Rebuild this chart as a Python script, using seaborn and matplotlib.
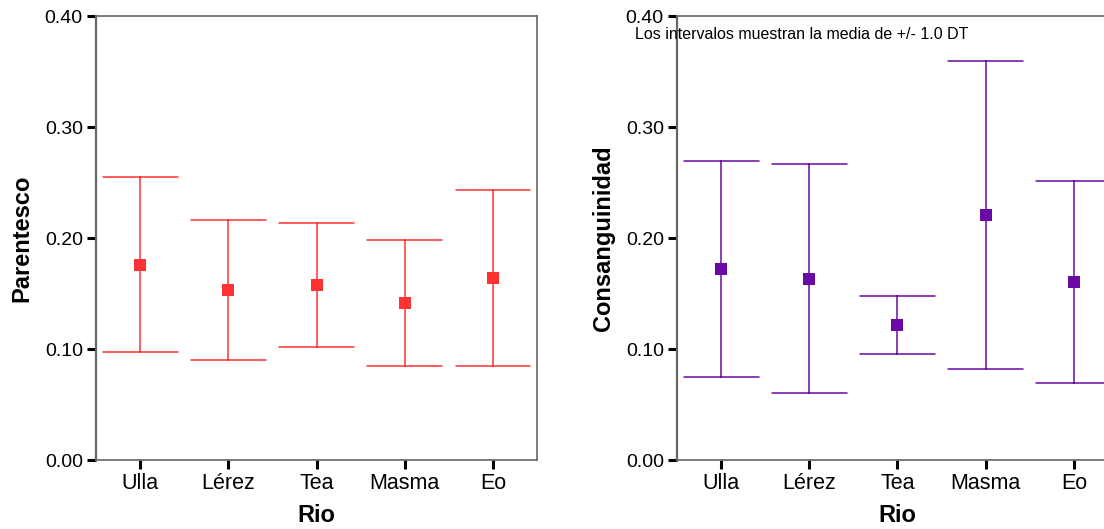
import pandas as pd
import numpy as np
import matplotlib
matplotlib.use('Agg')
import matplotlib.pyplot as plt
import seaborn as sns

# Data: mean +/- 1 SD per river
rios = ['Ulla', 'Lérez', 'Tea', 'Masma', 'Eo']
parentesco_media = [0.176, 0.153, 0.1575, 0.1415, 0.164]
parentesco_dt = [0.079, 0.063, 0.056, 0.0565, 0.079]
consang_media = [0.172, 0.1635, 0.1216, 0.2207, 0.1604]
consang_dt = [0.097, 0.103, 0.0263, 0.139, 0.091]
yticks = [0.0, 0.1, 0.2, 0.3, 0.4]

sns.set_theme(style='white')
plt.rcParams['font.family'] = ['Liberation Sans', 'DejaVu Sans']

RED = '#ff3333'
PURPLE = '#6a0aa6'
NARROW = ['Liberation Sans Narrow', 'Liberation Sans', 'DejaVu Sans']


def interval_frame(media, dt):
    # two rows per river: mean - sd and mean + sd
    rows = []
    for r, m, s in zip(rios, media, dt):
        rows.append({'Rio': r, 'valor': m - s})
        rows.append({'Rio': r, 'valor': m + s})
    return pd.DataFrame(rows)


def draw_panel(ax, media, dt, color, ylabel):
    df = interval_frame(media, dt)
    sns.pointplot(data=df, x='Rio', y='valor', order=rios,
                  estimator='mean', errorbar=lambda v: (v.min(), v.max()),
                  capsize=0.85, color=color, marker='s', markersize=8,
                  markeredgewidth=0, linestyle='none',
                  err_kws={'linewidth': 1.1}, ax=ax)
    ax.set_xlim(-0.5, 4.5)
    ax.set_ylim(0, 0.40)
    ax.set_yticks(yticks)
    ax.set_yticklabels([f'{t:.2f}' for t in yticks], family=NARROW,
                       fontsize=14, color='black')
    ax.tick_params(axis='x', labelsize=15.5, labelcolor='black', pad=4)
    ax.tick_params(axis='both', direction='out', length=6.5, width=2.2,
                   color='black', left=True, bottom=True, pad=3)
    ax.set_xlabel('Rio', fontsize=17, fontweight='bold', labelpad=7,
                  color='black')
    ax.set_ylabel(ylabel, fontsize=17, fontweight='bold', labelpad=8,
                  color='black')
    for side in ['top', 'right', 'bottom', 'left']:
        ax.spines[side].set_color('#666666')
        ax.spines[side].set_linewidth(1.2)
    ax.spines['left'].set_linewidth(1.6)


fig = plt.figure(figsize=(11.04, 5.29), dpi=100)
ax1 = fig.add_axes([0.0870, 0.1304, 0.3995, 0.8393])
ax2 = fig.add_axes([0.6132, 0.1304, 0.3995, 0.8393])

draw_panel(ax1, parentesco_media, parentesco_dt, RED, 'Parentesco')
draw_panel(ax2, consang_media, consang_dt, PURPLE, 'Consanguinidad')

fig.text(0.575, 0.935, 'Los intervalos muestran la media de +/- 1.0 DT',
         fontsize=11.5, color='black', ha='left', va='center', zorder=10)

fig.savefig('out.png', dpi=100, facecolor='white')
